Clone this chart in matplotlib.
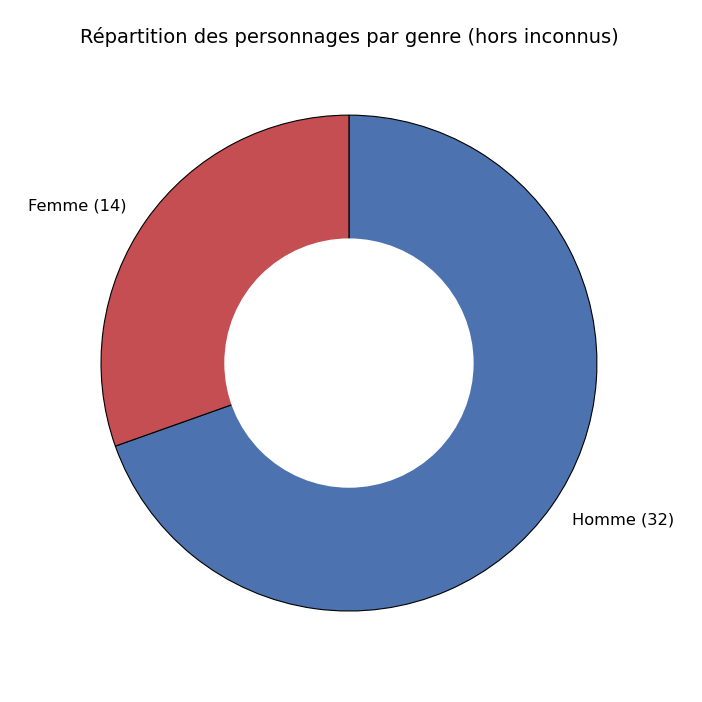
import matplotlib.pyplot as plt

# Données
genres = ["Homme", "Femme"]
effectifs = [32, 14]
couleurs = ["#4C72B0", "#C44E52"]

labels = [f"{g} ({n})" for g, n in zip(genres, effectifs)]

fig = plt.figure(figsize=(7.02, 7.02), dpi=100)
ax = fig.add_axes([0.0556, 0.0413, 0.883, 0.883])
ax.pie(effectifs, labels=labels, colors=couleurs, startangle=90, counterclock=False,
       wedgeprops=dict(edgecolor="black", linewidth=0.8),
       textprops=dict(fontsize=11.7))
# trou central (donut)
ax.add_artist(plt.Circle((0, 0), 0.5, color="white"))
ax.set_title("Répartition des personnages par genre (hors inconnus)", fontsize=14, pad=7.5)
plt.savefig("out.png", dpi=100)
plt.close()
